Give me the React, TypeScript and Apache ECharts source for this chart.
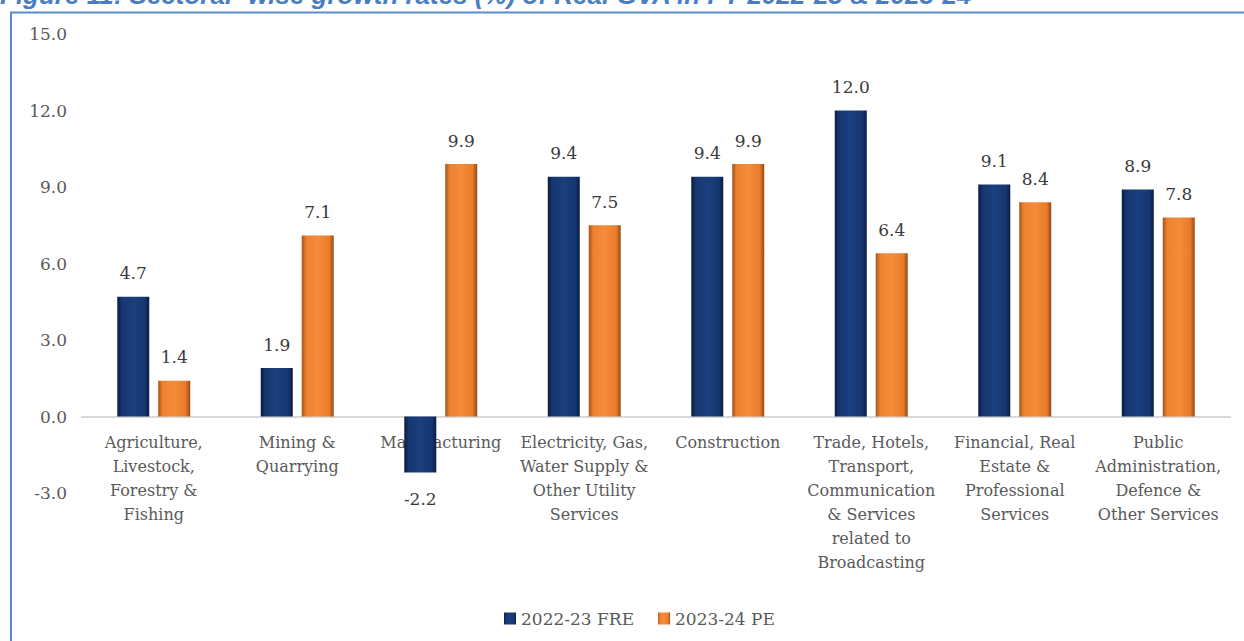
import React, { useEffect, useRef } from "react";
import * as echarts from "echarts";

const categories = [
  "Agriculture,\nLivestock,\nForestry &\nFishing",
  "Mining &\nQuarrying",
  "Manufacturing",
  "Electricity, Gas,\nWater Supply &\nOther Utility\nServices",
  "Construction",
  "Trade, Hotels,\nTransport,\nCommunication\n& Services\nrelated to\nBroadcasting",
  "Financial, Real\nEstate &\nProfessional\nServices",
  "Public\nAdministration,\nDefence &\nOther Services",
];
const fre2223 = [4.7, 1.9, -2.2, 9.4, 9.4, 12.0, 9.1, 8.9];
const pe2324 = [1.4, 7.1, 9.9, 7.5, 9.9, 6.4, 8.4, 7.8];
const seriesNames = ["2022-23 FRE", "2023-24 PE"];
const titleText =
  "Figure 11: Sectoral- wise growth rates (%) of Real GVA in FY 2022-23 & 2023-24";

const SERIF = "DejaVu Serif";

const blueGrad = {
  type: "linear",
  x: 0,
  y: 0,
  x2: 1,
  y2: 0,
  colorStops: [
    { offset: 0, color: "#0a1c40" },
    { offset: 0.14, color: "#163670" },
    { offset: 0.5, color: "#1b3f7e" },
    { offset: 0.86, color: "#163670" },
    { offset: 1, color: "#0a1c40" },
  ],
};
const orangeGrad = {
  type: "linear",
  x: 0,
  y: 0,
  x2: 1,
  y2: 0,
  colorStops: [
    { offset: 0, color: "#a4531a" },
    { offset: 0.14, color: "#ee812f" },
    { offset: 0.5, color: "#f58d3a" },
    { offset: 0.86, color: "#e97b2a" },
    { offset: 1, color: "#954812" },
  ],
};

function toItems(values: number[]) {
  return values.map((v) =>
    v < 0
      ? { value: v, label: { position: "bottom", distance: 18 } }
      : { value: v }
  );
}

export default function App() {
  const ref = useRef<HTMLDivElement>(null);
  useEffect(() => {
    if (!ref.current) return;
    const chart = echarts.init(ref.current, undefined, { renderer: "svg" });
    const labelCfg = {
      show: true,
      position: "top",
      distance: 15,
      fontFamily: SERIF,
      fontSize: 17,
      color: "#3a3a3a",
      formatter: (p: any) => Number(p.value).toFixed(1),
    };
    chart.setOption({
      animation: false,
      backgroundColor: "#ffffff",
      graphic: [
        {
          type: "rect",
          shape: { x: 11, y: 12.5, width: 1400, height: 800 },
          style: { fill: "none", stroke: "#5b8ccf", lineWidth: 2 },
          silent: true,
          z: 0,
        },
        {
          type: "text",
          x: 0,
          y: -5,
          style: {
            text: titleText,
            fontFamily: "Liberation Sans",
            fontStyle: "italic",
            fontWeight: "bold",
            fontSize: 26,
            fill: "#4a7ec4",
            textAlign: "left",
            textVerticalAlign: "middle",
          },
          silent: true,
        },
      ],
      grid: {
        left: 82,
        right: 14,
        top: 34,
        bottom: 148,
        containLabel: false,
        outerBoundsMode: "none",
      },
      legend: {
        data: seriesNames,
        left: 499,
        top: 605,
        itemWidth: 12,
        itemHeight: 12,
        itemGap: 24,
        icon: "rect",
        textStyle: { fontFamily: SERIF, fontSize: 17, color: "#595959" },
      },
      xAxis: {
        type: "category",
        data: categories,
        axisLine: { show: true, onZero: true, lineStyle: { color: "#d9d9d9", width: 2 } },
        axisTick: { show: false },
        axisLabel: {
          interval: 0,
          margin: -63,
          lineHeight: 24,
          fontFamily: SERIF,
          fontSize: 16,
          color: "#595959",
        },
      },
      yAxis: {
        type: "value",
        min: -3,
        max: 15,
        interval: 3,
        axisLine: { show: false },
        axisTick: { show: false },
        splitLine: { show: false },
        axisLabel: {
          margin: 15,
          fontFamily: SERIF,
          fontSize: 17,
          color: "#595959",
          formatter: (v: number) => v.toFixed(1),
        },
      },
      series: [
        {
          name: seriesNames[0],
          type: "bar",
          data: toItems(fre2223),
          barWidth: 32,
          barGap: "28%",
          itemStyle: { color: blueGrad as any },
          label: labelCfg,
          z: 3,
        },
        {
          name: seriesNames[1],
          type: "bar",
          data: toItems(pe2324),
          barWidth: 32,
          barGap: "28%",
          itemStyle: { color: orangeGrad as any },
          label: labelCfg,
          z: 3,
        },
      ],
    });
    return () => chart.dispose();
  }, []);
  return (
    <div
      ref={ref}
      style={{ position: "absolute", left: 0, top: 0, width: 1244, height: 641 }}
    />
  );
}
